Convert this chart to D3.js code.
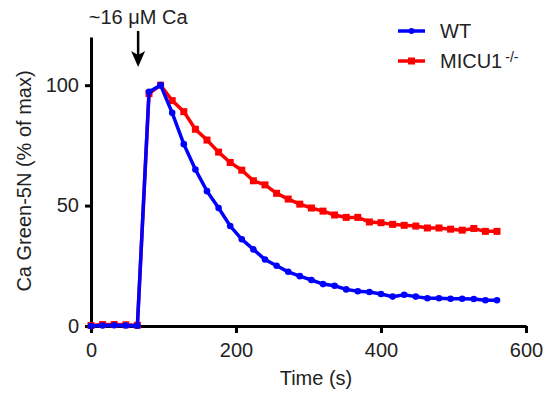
<!DOCTYPE html>
<html>
<head>
<meta charset="utf-8">
<script src="https://cdn.jsdelivr.net/npm/d3@7"></script>
<style>
  body { margin: 0; background: #fff; }
  text { font-family: "Liberation Sans", Arial, sans-serif; fill: #222; }
</style>
</head>
<body>
<script>
// time points (s), sampled every 16 s
var times = [0,16,32,48,64,80,96,112,128,144,160,176,192,208,224,240,256,272,288,304,320,336,352,368,384,400,416,432,448,464,480,496,512,528,544,560];

var wtValues = [0,0.2,0.3,0.2,0.1,97.2,100,88.5,75.5,65.0,56.0,49.0,41.5,36.0,31.8,27.6,25.0,22.5,20.7,19.1,17.4,16.7,15.2,14.4,14.1,13.3,12.2,13.0,12.2,11.5,11.5,11.3,11.3,11.2,10.7,10.7];

var micuValues = [0.2,0.6,0.6,0.5,0.3,96.5,100,93.6,89.0,81.7,77.2,72.2,67.9,64.7,60.3,58.6,55.1,52.7,50.6,49.0,47.7,46.1,45.1,45.1,43.2,42.9,42.2,41.8,41.5,40.7,40.7,40.2,39.8,40.5,39.3,39.3];

var xTicks = [0,200,400,600];
var yTicks = [0,50,100];
var addTime = 65; // Ca addition

var width = 544, height = 393;

var svg = d3.select("body").append("svg")
  .attr("width", width)
  .attr("height", height);

var x = d3.scaleLinear().domain([0,600]).range([91,526]);
var y = d3.scaleLinear().domain([0,120]).range([326,37]);

// axes
var xAxis = svg.append("g")
  .attr("transform", "translate(0," + y(0) + ")")
  .call(d3.axisBottom(x).tickValues(xTicks).tickSize(7).tickSizeOuter(0).tickPadding(10));

var yAxis = svg.append("g")
  .attr("transform", "translate(" + x(0) + ",0)")
  .call(d3.axisLeft(y).tickValues(yTicks).tickSize(6).tickSizeOuter(0).tickPadding(6));

[xAxis, yAxis].forEach(function(a) {
  a.selectAll("path, line").attr("stroke", "#000").attr("stroke-width", 3);
  a.selectAll("text").style("font-size", "20px").attr("fill", "#222");
});

// axis titles
svg.append("text")
  .attr("x", 316).attr("y", 385)
  .attr("text-anchor", "middle")
  .style("font-size", "20px")
  .text("Time (s)");

svg.append("text")
  .attr("transform", "translate(31,181) rotate(-90)")
  .attr("text-anchor", "middle")
  .style("font-size", "20px")
  .text("Ca Green-5N (% of max)");

// series
var wt = times.map(function(t, i) { return {t: t, v: wtValues[i]}; });
var micu = times.map(function(t, i) { return {t: t, v: micuValues[i]}; });

var line = d3.line()
  .x(function(d) { return x(d.t); })
  .y(function(d) { return y(d.v); });

svg.append("path")
  .datum(micu)
  .attr("fill", "none")
  .attr("stroke", "#ff0000")
  .attr("stroke-width", 3.5)
  .attr("d", line);

svg.selectAll(".sq")
  .data(micu)
  .enter().append("rect")
  .attr("class", "sq")
  .attr("x", function(d) { return x(d.t) - 3.5; })
  .attr("y", function(d) { return y(d.v) - 3.5; })
  .attr("width", 7)
  .attr("height", 7)
  .attr("fill", "#ff0000");

svg.append("path")
  .datum(wt)
  .attr("fill", "none")
  .attr("stroke", "#0000ff")
  .attr("stroke-width", 3.5)
  .attr("d", line);

svg.selectAll(".dot")
  .data(wt)
  .enter().append("circle")
  .attr("class", "dot")
  .attr("cx", function(d) { return x(d.t); })
  .attr("cy", function(d) { return y(d.v); })
  .attr("r", 3.3)
  .attr("fill", "#0000ff");

// annotation arrow
var ax = x(addTime);
svg.append("text")
  .attr("x", ax).attr("y", 24)
  .attr("text-anchor", "middle")
  .style("font-size", "20px")
  .text("~16 \u03bcM Ca");

svg.append("line")
  .attr("x1", ax).attr("x2", ax)
  .attr("y1", 31).attr("y2", 58)
  .attr("stroke", "#000")
  .attr("stroke-width", 2.5);

svg.append("path")
  .attr("d", "M" + (ax - 7) + ",51 L" + ax + ",67 L" + (ax + 7) + ",51 L" + ax + ",55 Z")
  .attr("fill", "#000");

// legend
var legend = [
  {name: "WT", color: "#0000ff", shape: "circle"},
  {name: "MICU1", sup: "-/-", color: "#ff0000", shape: "square"}
];

var lg = svg.selectAll(".legend")
  .data(legend)
  .enter().append("g")
  .attr("class", "legend")
  .attr("transform", function(d, i) { return "translate(0," + (31 + i * 30) + ")"; });

lg.append("line")
  .attr("x1", 398).attr("x2", 425)
  .attr("stroke", function(d) { return d.color; })
  .attr("stroke-width", 3.5);

lg.filter(function(d) { return d.shape == "circle"; })
  .append("circle")
  .attr("cx", 411.5).attr("r", 3)
  .attr("fill", function(d) { return d.color; });

lg.filter(function(d) { return d.shape == "square"; })
  .append("rect")
  .attr("x", 408).attr("y", -3.5)
  .attr("width", 7).attr("height", 7)
  .attr("fill", function(d) { return d.color; });

var lt = lg.append("text")
  .attr("x", 440).attr("y", 7)
  .style("font-size", "20px")
  .text(function(d) { return d.name; });

lt.filter(function(d) { return d.sup; })
  .append("tspan")
  .attr("dx", 3)
  .attr("dy", -6)
  .style("font-size", "14px")
  .text(function(d) { return d.sup; });
</script>
</body>
</html>
